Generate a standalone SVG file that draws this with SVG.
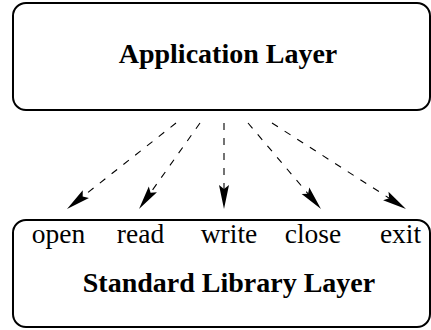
<svg xmlns="http://www.w3.org/2000/svg" width="431" height="330" viewBox="0 0 431 330">
<defs>
<style>
.box{fill:#fff;stroke:#000;stroke-width:2}
.title{font-family:"Liberation Serif","Times New Roman",serif;font-weight:bold;font-size:28px;text-anchor:middle;fill:#000}
.lbl{font-family:"Liberation Serif","Times New Roman",serif;font-size:27.5px;text-anchor:middle;fill:#000}
.conn{fill:none;stroke:#000;stroke-width:1.1;stroke-dasharray:7 8}
.head{fill:#000;stroke:none}
</style>
</defs>
<g id="app">
<rect class="box" x="13" y="3" width="417" height="107" rx="13"/>
<text class="title" x="228" y="63">Application Layer</text>
</g>
<g id="stdlib">
<rect class="box" x="13" y="220" width="417" height="107" rx="13"/>
<text class="lbl" x="58.5" y="243">open</text>
<text class="lbl" x="140.5" y="243">read</text>
<text class="lbl" x="229" y="243">write</text>
<text class="lbl" x="313" y="243">close</text>
<text class="lbl" x="400.5" y="243">exit</text>
<text class="title" x="229" y="292">Standard Library Layer</text>
</g>
<g id="connectors">
<line class="conn" x1="176" y1="123" x2="82.7" y2="196.6"/>
<polygon class="head" points="67,209 82.74,190.2 82.7,196.61 88.94,198.06"/>
<line class="conn" x1="200" y1="123" x2="150.6" y2="192.7"/>
<polygon class="head" points="139,209 148.8,186.54 150.57,192.69 156.96,192.32"/>
<line class="conn" x1="224" y1="123" x2="224" y2="189"/>
<polygon class="head" points="224,209 219,185 224,189 229,185"/>
<line class="conn" x1="248" y1="123" x2="308.1" y2="193.8"/>
<polygon class="head" points="321,209 301.66,193.94 308.06,193.75 309.28,187.46"/>
<line class="conn" x1="272" y1="123" x2="389.2" y2="198.2"/>
<polygon class="head" points="406,209 383.1,200.25 389.17,198.2 388.5,191.83"/>
</g>
</svg>
